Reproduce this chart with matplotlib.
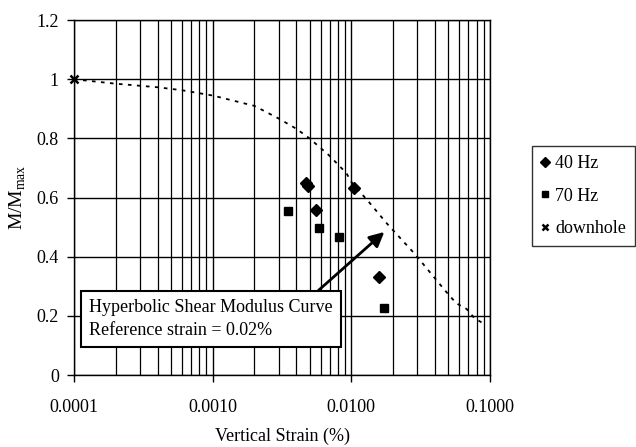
import matplotlib
matplotlib.use('Agg')
import matplotlib.pyplot as plt

plt.rcParams['font.family'] = ['Liberation Serif', 'DejaVu Serif']
plt.rcParams['mathtext.fontset'] = 'custom'
plt.rcParams['mathtext.rm'] = 'Liberation Serif'

# Hyperbolic shear modulus curve
curve_strain = [0.0001, 0.0002, 0.0004, 0.0006, 0.001, 0.002, 0.003, 0.004, 0.005,
                0.0069, 0.0092, 0.0101, 0.0135, 0.018, 0.029, 0.0396, 0.048,
                0.057, 0.068, 0.077, 0.0876]
curve_ratio = [1.0, 0.985, 0.973, 0.963, 0.945, 0.91, 0.867, 0.833, 0.80,
               0.743, 0.683, 0.65, 0.583, 0.513, 0.407, 0.33, 0.283,
               0.243, 0.223, 0.193, 0.177]

# 40 Hz results
hz40_strain = [0.0047, 0.0049, 0.0056, 0.0105, 0.0159]
hz40_ratio = [0.65, 0.64, 0.557, 0.633, 0.333]

# 70 Hz results
hz70_strain = [0.00347, 0.0058, 0.0082, 0.0173]
hz70_ratio = [0.553, 0.497, 0.467, 0.227]

# downhole
dh_strain = [0.0001]
dh_ratio = [1.0]

xticks = [0.0001, 0.001, 0.01, 0.1]
xtick_labels = ['0.0001', '0.0010', '0.0100', '0.1000']
yticks = [0, 0.2, 0.4, 0.6, 0.8, 1.0, 1.2]
ytick_labels = ['0', '0.2', '0.4', '0.6', '0.8', '1', '1.2']

fig = plt.figure(figsize=(6.36, 4.47), dpi=100)
ax = fig.add_axes([0.1164, 0.161, 0.654, 0.794])

ax.plot(curve_strain, curve_ratio, color='black', linestyle=(0, (2, 3)), linewidth=1.3)
h40, = ax.plot(hz40_strain, hz40_ratio, linestyle='none', marker='D', color='black',
               markersize=6, label='40 Hz')
h70, = ax.plot(hz70_strain, hz70_ratio, linestyle='none', marker='s', color='black',
               markersize=6, label='70 Hz')
hdh, = ax.plot(dh_strain, dh_ratio, linestyle='none', marker='x', color='black',
               markersize=6, markeredgewidth=1.8, label='downhole', clip_on=False)

ax.set_xscale('log')
ax.set_xlim(0.0001, 0.1)
ax.set_ylim(0, 1.2)
ax.set_xticks(xticks)
ax.set_xticklabels(xtick_labels)
ax.set_yticks(yticks)
ax.set_yticklabels(ytick_labels)
ax.tick_params(axis='x', which='minor', length=0)
ax.tick_params(axis='both', labelsize=13, length=5, width=1)
ax.tick_params(axis='x', pad=12)
ax.tick_params(axis='y', pad=6)

ax.grid(True, which='major', axis='both', color='black', linewidth=1.0)
ax.grid(True, which='minor', axis='x', color='black', linewidth=0.9)
ax.set_axisbelow(True)
for s in ax.spines.values():
    s.set_linewidth(1.0)

ax.set_xlabel('Vertical Strain (%)', fontsize=13, labelpad=9)
ax.set_ylabel(r'M/M$_{\rm max}$', fontsize=14, labelpad=6)

# annotation box with arrow
ax.annotate('', xy=(0.0179, 0.49), xytext=(0.0056, 0.28),
            arrowprops=dict(arrowstyle='-|>', color='black', lw=2, mutation_scale=22))
ax.text(0.000128, 0.19, 'Hyperbolic Shear Modulus Curve\nReference strain = 0.02%',
        fontsize=13, va='center', ha='left', linespacing=1.45,
        bbox=dict(boxstyle='square,pad=0.45', facecolor='white', edgecolor='black', linewidth=1.5))

leg = fig.legend(handles=[h40, h70, hdh], loc='upper left', bbox_to_anchor=(0.836, 0.673),
                 frameon=True, fancybox=False, edgecolor='black', fontsize=13,
                 handlelength=0.5, handletextpad=0.3, labelspacing=0.85, borderpad=0.5,
                 borderaxespad=0, markerscale=0.8)
leg.get_frame().set_linewidth(1.0)

fig.savefig('out.png', dpi=100)
